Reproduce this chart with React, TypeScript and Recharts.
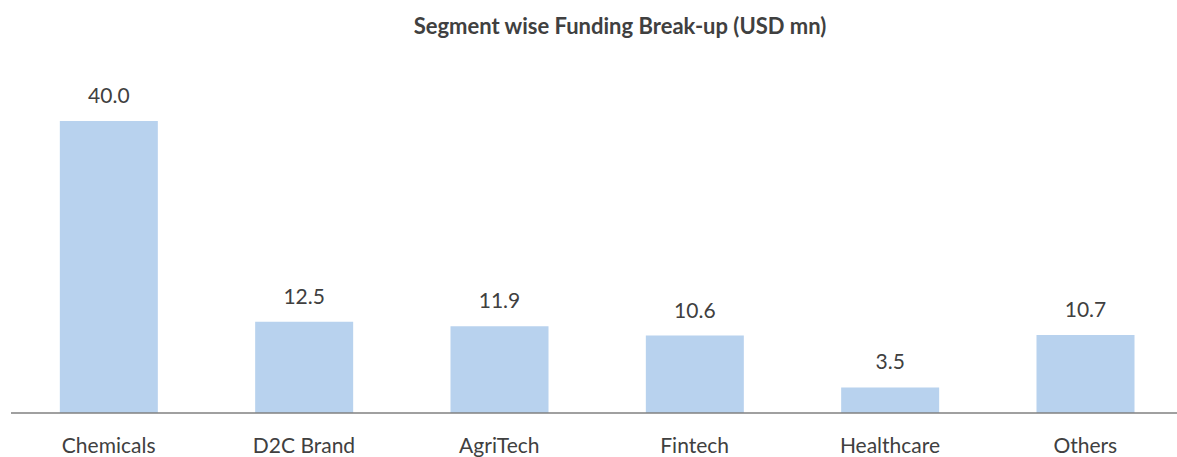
import { Bar, BarChart, LabelList, XAxis, YAxis } from "recharts"

const segments = ["Chemicals", "D2C Brand", "AgriTech", "Fintech", "Healthcare", "Others"]
const funding = [40.0, 12.5, 11.9, 10.6, 3.5, 10.7]

const data = segments.map((segment, i) => ({ segment, funding: funding[i] }))

const font = "Lato, 'Open Sans', sans-serif"

export default function App() {
  return (
    <div
      style={{
        position: "absolute",
        left: 0,
        top: 0,
        width: 1177,
        height: 457,
        overflow: "hidden",
        background: "#fff",
        fontFamily: font,
      }}
    >
      <div
        style={{
          position: "absolute",
          left: 0,
          width: 1240,
          top: 12,
          textAlign: "center",
          fontWeight: 700,
          fontSize: 22,
          color: "#404040",
        }}
      >
        Segment wise Funding Break-up (USD mn)
      </div>
      <BarChart
        width={1185}
        height={457}
        data={data}
        margin={{ top: 121, right: 2, left: 11, bottom: 0 }}
        barCategoryGap="25%"
      >
        <XAxis
          dataKey="segment"
          height={44}
          axisLine={{ stroke: "#808080", strokeWidth: 1.5 }}
          tickLine={false}
          tickMargin={19}
          tick={{ fill: "#404040", fontSize: 21, fontFamily: font }}
          interval={0}
        />
        <YAxis hide domain={[0, 40]} />
        <Bar dataKey="funding" fill="#b8d2ee" isAnimationActive={false}>
          <LabelList
            dataKey="funding"
            position="top"
            offset={18}
            formatter={(v: any) => Number(v).toFixed(1)}
            style={{ fill: "#404040", fontSize: 21, fontFamily: font }}
          />
        </Bar>
      </BarChart>
    </div>
  )
}
